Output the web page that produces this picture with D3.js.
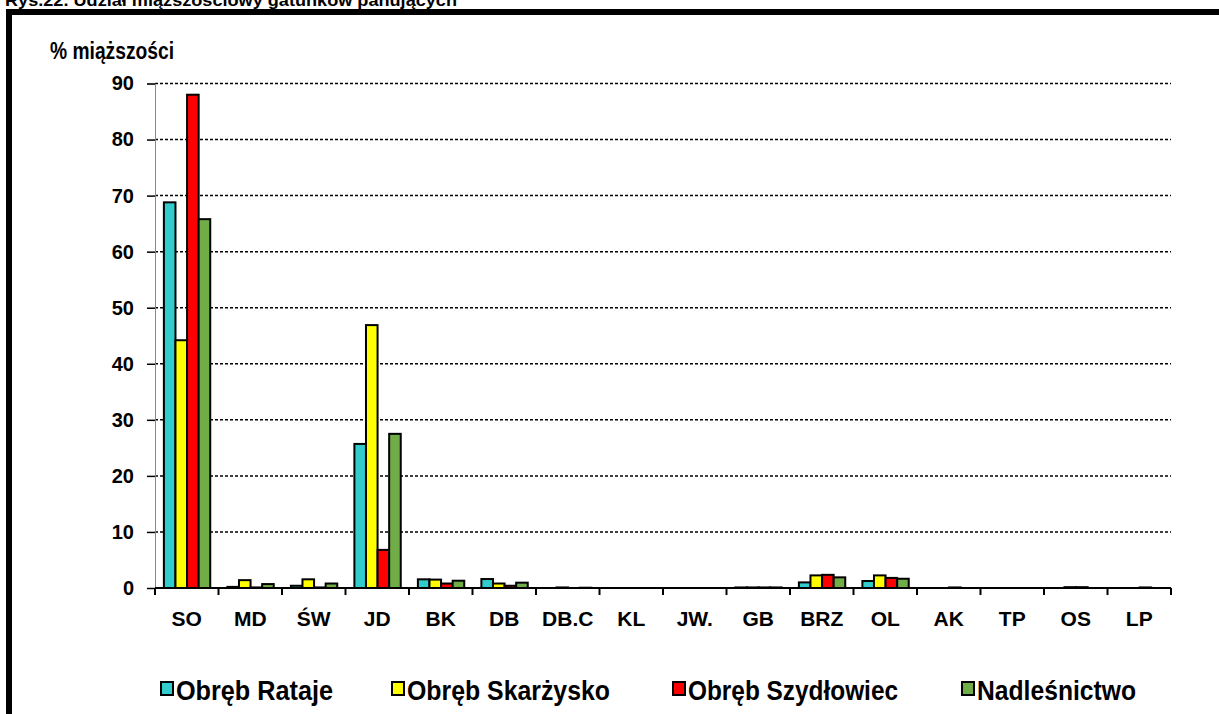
<!DOCTYPE html>
<html><head><meta charset="utf-8">
<script src="https://cdn.jsdelivr.net/npm/d3@7"></script>
<style>
html,body{margin:0;padding:0;background:#fff;overflow:hidden}
text{font-family:Arial,"Liberation Sans",sans-serif;font-weight:bold;fill:#000}
</style></head>
<body>
<svg id="c" width="1219" height="714"></svg>
<script>
const categories = ["SO","MD","ŚW","JD","BK","DB","DB.C","KL","JW.","GB","BRZ","OL","AK","TP","OS","LP"];
const seriesNames = ["Obręb Rataje","Obręb Skarżysko","Obręb Szydłowiec","Nadleśnictwo"];
const rataje      = [68.8, 0.2, 0.4, 25.7, 1.55, 1.6, 0,   0, 0, 0.1, 1.0,  1.25, 0,   0, 0,    0];
const skarzysko   = [44.2, 1.4, 1.55,46.9, 1.5,  0.8, 0.1, 0, 0, 0.1, 2.25, 2.25, 0,   0, 0.15, 0];
const szydlowiec  = [88.0, 0.1, 0.1, 6.8,  0.8,  0.4, 0,   0, 0, 0.1, 2.35, 1.8,  0.1, 0, 0.15, 0.1];
const nadlesnictwo= [65.8, 0.7, 0.8, 27.5, 1.3,  0.95,0.05,0, 0, 0.1, 1.9,  1.65, 0,   0, 0,    0];
const yTicks = [0,10,20,30,40,50,60,70,80,90];
const colors = ["#33CCCC","#FFFF00","#FF0000","#70AD47"];
const title = "Rys.22. Udział miąższościowy gatunków panujących";
const yLabel = "% miąższości";

const seriesVals = [rataje, skarzysko, szydlowiec, nadlesnictwo];
const svg = d3.select("#c");

// title (partially cut off at top, as in the reference)
svg.append("text").attr("x",5).attr("y",6).attr("font-size",17)
  .attr("textLength",452).attr("lengthAdjust","spacingAndGlyphs").text(title);

// outer frame
svg.append("rect").attr("x",9).attr("y",12).attr("width",1240).attr("height",740)
  .attr("fill","none").attr("stroke","#000").attr("stroke-width",6);

const x0 = d3.scaleBand().domain(categories).range([155,1171]).padding(0);
const bw = x0.bandwidth();
const x1 = d3.scaleBand().domain(seriesNames).range([bw*0.14, bw*0.87]).padding(0);
const y = d3.scaleLinear().domain([0,90]).range([588,83.5]);

// gridlines
svg.append("g").selectAll("line").data(yTicks.filter(d=>d>0)).join("line")
  .attr("x1",155).attr("x2",1171).attr("y1",d=>y(d)).attr("y2",d=>y(d))
  .attr("stroke","#000").attr("stroke-width",1.5).attr("stroke-dasharray","3,2");

// y axis
const yAxis = svg.append("g").attr("transform","translate(155,0)")
  .call(d3.axisLeft(y).tickValues(yTicks).tickSize(8).tickPadding(13).tickFormat(d3.format("d")));
yAxis.select(".domain").attr("stroke","#888").attr("stroke-width",1);
yAxis.selectAll(".tick line").attr("stroke","#000").attr("stroke-width",1.5);
yAxis.selectAll(".tick text").attr("font-size",20).attr("font-family","Arial, 'Liberation Sans', sans-serif").attr("font-weight","bold").attr("fill","#000");

svg.append("text").attr("x",50).attr("y",59).attr("font-size",23)
  .attr("textLength",124).attr("lengthAdjust","spacingAndGlyphs").text(yLabel);

// bars
const groups = svg.append("g").selectAll("g").data(categories).join("g")
  .attr("transform",d=>`translate(${x0(d)},0)`);
groups.selectAll("rect").data((c,i)=>seriesNames.map((s,j)=>({s, j, v: seriesVals[j][i]})))
  .join("rect")
  .attr("x",d=>x1(d.s)).attr("width",x1.bandwidth())
  .attr("y",d=>y(d.v)).attr("height",d=>y(0)-y(d.v))
  .attr("fill",d=>colors[d.j]).attr("stroke","#000").attr("stroke-width",2);

// x axis
const xTickPos = d3.range(categories.length+1).map(i=>155+i*bw);
svg.append("line").attr("x1",155).attr("x2",1171).attr("y1",588).attr("y2",588)
  .attr("stroke","#000").attr("stroke-width",2);
svg.append("g").selectAll("line").data(xTickPos).join("line")
  .attr("x1",d=>d).attr("x2",d=>d).attr("y1",588).attr("y2",595)
  .attr("stroke","#000").attr("stroke-width",2);
svg.append("g").selectAll("text").data(categories).join("text")
  .attr("x",d=>x0(d)+bw/2).attr("y",626).attr("text-anchor","middle").attr("font-size",21).text(d=>d);

// legend
const legX = [160,391,672,961];
const legW = [157,203,210,159];
const lg = svg.append("g").selectAll("g").data(seriesNames).join("g")
  .attr("transform",(d,i)=>`translate(${legX[i]},0)`);
lg.append("rect").attr("x",1).attr("y",682).attr("width",12).attr("height",13)
  .attr("fill",(d,i)=>colors[i]).attr("stroke","#000").attr("stroke-width",2);
lg.append("text").attr("x",16).attr("y",700).attr("font-size",27)
  .attr("textLength",(d,i)=>legW[i]).attr("lengthAdjust","spacingAndGlyphs").text(d=>d);
</script>
</body></html>
